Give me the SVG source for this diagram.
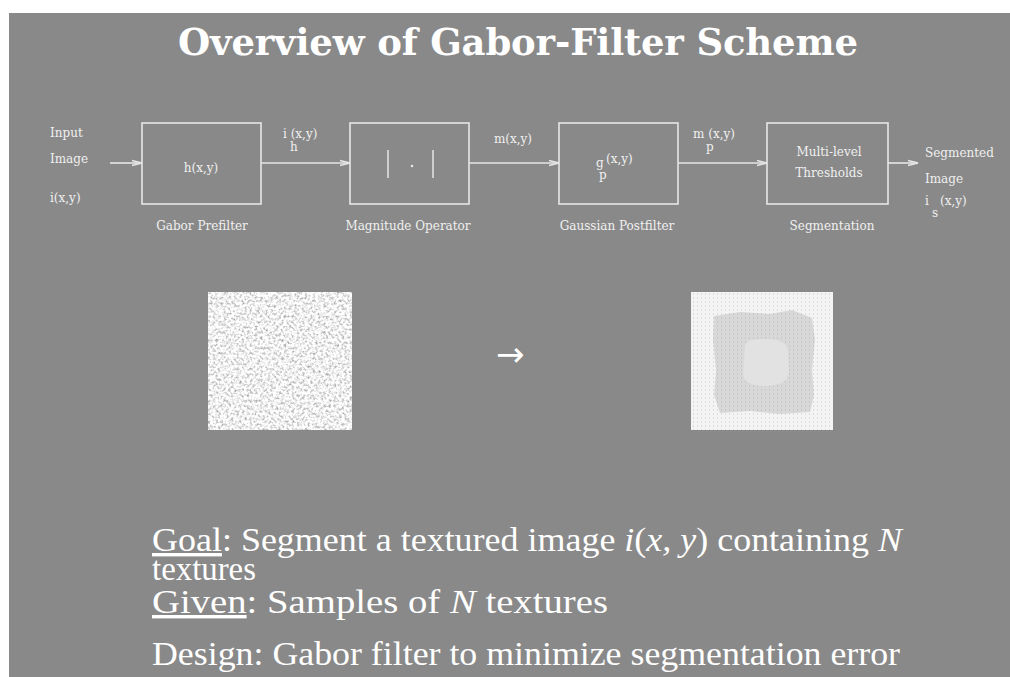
<svg xmlns="http://www.w3.org/2000/svg" width="1010" height="677" viewBox="0 0 1010 677">
<style>
.bg{fill:#898989}
.box{fill:none;stroke:#e6e6e6;stroke-width:1.6}
.conn{stroke:#e6e6e6;stroke-width:1.6;fill:none;marker-end:url(#ah)}
.sm{font-family:"DejaVu Serif","Liberation Serif",serif;font-size:12px;fill:#f0f0f0}
.title{font-family:"DejaVu Serif","Liberation Serif",serif;font-size:37px;font-weight:bold;fill:#ffffff}
.body{font-family:"Liberation Serif",serif;font-size:34px;fill:#ffffff}
.it{font-style:italic}
.ul{text-decoration:underline}
</style>
<defs>
<marker id="ah" markerWidth="12" markerHeight="8" refX="11" refY="4" orient="auto" markerUnits="userSpaceOnUse">
<path d="M1,1.5 L11,4 L1,6.5" fill="none" stroke="#e6e6e6" stroke-width="1.4"/>
</marker>
<filter id="noise" x="0" y="0" width="100%" height="100%">
<feTurbulence type="fractalNoise" baseFrequency="0.38" numOctaves="2" seed="7"/>
<feColorMatrix type="matrix" values="1.5 0 0 0 0.12  1.5 0 0 0 0.12  1.5 0 0 0 0.12  0 0 0 0 1"/>
</filter>
<pattern id="dots" width="4" height="4" patternUnits="userSpaceOnUse">
<rect width="4" height="4" fill="#f4f4f4"/>
<rect x="1" y="1" width="1" height="2" fill="#dcdcdc"/>
</pattern>
<pattern id="dots2" width="4" height="4" patternUnits="userSpaceOnUse">
<rect width="4" height="4" fill="#d8d8d8"/>
<rect x="1" y="1" width="1" height="2" fill="#c8c8c8"/>
</pattern>
</defs>
<rect class="bg" x="9" y="13" width="1001" height="664"/>

<g id="title">
<text class="title" x="178" y="55" textLength="680" lengthAdjust="spacing">Overview of Gabor-Filter Scheme</text>
</g>

<g id="input">
<text class="sm" x="50" y="137">Input</text>
<text class="sm" x="50" y="163">Image</text>
<text class="sm" x="50" y="202">i(x,y)</text>
</g>

<g id="gabor-prefilter">
<rect class="box" x="142" y="123" width="119" height="81"/>
<text class="sm" x="201" y="172" text-anchor="middle">h(x,y)</text>
<text class="sm" x="202" y="230" text-anchor="middle">Gabor Prefilter</text>
</g>

<g id="magnitude-operator">
<rect class="box" x="350" y="123" width="119" height="81"/>
<line x1="388" y1="150" x2="388" y2="178" stroke="#e6e6e6" stroke-width="1.5"/>
<line x1="433" y1="150" x2="433" y2="178" stroke="#e6e6e6" stroke-width="1.5"/>
<circle cx="412" cy="166" r="1.3" fill="#e6e6e6"/>
<text class="sm" x="408" y="230" text-anchor="middle">Magnitude Operator</text>
</g>

<g id="gaussian-postfilter">
<rect class="box" x="559" y="123" width="119" height="81"/>
<text class="sm" x="596" y="167">g</text>
<text class="sm" x="599" y="179">p</text>
<text class="sm" x="606" y="163">(x,y)</text>
<text class="sm" x="617" y="230" text-anchor="middle">Gaussian Postfilter</text>
</g>

<g id="segmentation">
<rect class="box" x="767" y="123" width="121" height="81"/>
<text class="sm" x="829" y="156" text-anchor="middle">Multi-level</text>
<text class="sm" x="829" y="177" text-anchor="middle">Thresholds</text>
<text class="sm" x="832" y="230" text-anchor="middle">Segmentation</text>
</g>

<g id="output">
<text class="sm" x="925" y="157">Segmented</text>
<text class="sm" x="925" y="183">Image</text>
<text class="sm" x="925" y="205">i</text>
<text class="sm" x="932" y="217">s</text>
<text class="sm" x="940" y="205">(x,y)</text>
</g>

<g id="connectors">
<line class="conn" x1="110" y1="163" x2="142" y2="163"/>
<line class="conn" x1="261" y1="163" x2="350" y2="163"/>
<line class="conn" x1="469" y1="163" x2="559" y2="163"/>
<line class="conn" x1="678" y1="163" x2="767" y2="163"/>
<line class="conn" x1="888" y1="163" x2="918" y2="163"/>
<text class="sm" x="283" y="138">i (x,y)</text>
<text class="sm" x="290" y="151">h</text>
<text class="sm" x="513" y="143" text-anchor="middle">m(x,y)</text>
<text class="sm" x="693" y="138">m (x,y)</text>
<text class="sm" x="706" y="151">p</text>
</g>

<g id="input-texture">
<rect x="208" y="292" width="144" height="138" fill="#d8d8d8"/>
<rect x="208" y="292" width="144" height="138" filter="url(#noise)"/>
</g>

<g id="result-arrow">
<text x="496" y="366" font-family="DejaVu Sans,sans-serif" font-size="34" fill="#ffffff">→</text>
</g>

<g id="segmented-result">
<rect x="691" y="292" width="142" height="138" fill="url(#dots)"/>
<path d="M714,316 L740,312 L770,314 L792,310 L812,318 L815,340 L812,370 L814,395 L810,412 L780,414 L750,411 L720,413 L714,395 L716,370 L713,340 Z" fill="url(#dots2)"/>
<path d="M745,345 Q748,338 765,339 Q785,338 788,350 L789,372 Q787,385 768,386 Q746,387 743,375 Z" fill="#e2e2e2"/>
</g>

<g id="text-body">
<text class="body" x="152" y="551" textLength="750" lengthAdjust="spacingAndGlyphs"><tspan class="ul">Goal</tspan>: Segment a textured image <tspan class="it">i</tspan>(<tspan class="it">x, y</tspan>) containing <tspan class="it">N</tspan></text>
<text class="body" x="152" y="580" textLength="104" lengthAdjust="spacingAndGlyphs">textures</text>
<text class="body" x="152" y="613" textLength="456" lengthAdjust="spacingAndGlyphs"><tspan class="ul">Given</tspan>: Samples of <tspan class="it">N</tspan> textures</text>
<text class="body" x="152" y="665" textLength="748" lengthAdjust="spacingAndGlyphs">Design: Gabor filter to minimize segmentation error</text>
</g>
</svg>
